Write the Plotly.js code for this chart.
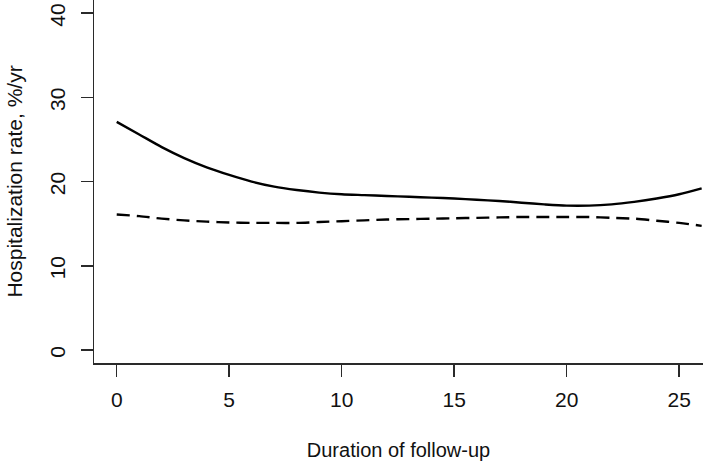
<!DOCTYPE html>
<html>
<head>
<meta charset="utf-8">
<script src="https://cdn.plot.ly/plotly-3.0.1.min.js"></script>
<style>
  html, body { margin: 0; padding: 0; background: #fff; }
  #chart { width: 703px; height: 464px; }
</style>
</head>
<body>
<div id="chart"></div>
<script>
// Years of follow-up
const years = [0, 1, 2, 3, 4, 5, 6, 7, 8, 9, 10, 11, 12, 13, 14, 15, 16, 17, 18, 19, 20, 21, 22, 23, 24, 25, 26];

// Solid curve
const rateSolid = [27.1, 25.6, 24.1, 22.8, 21.7, 20.8, 20.0, 19.4, 19.0, 18.7, 18.5, 18.4, 18.3, 18.2, 18.1, 18.0,
  17.85, 17.7, 17.5, 17.3, 17.15, 17.15, 17.3, 17.6, 18.0, 18.5, 19.2];

// Dashed curve
const rateDashed = [16.1, 15.9, 15.6, 15.4, 15.25, 15.15, 15.1, 15.1, 15.1, 15.2, 15.3, 15.4, 15.5, 15.55, 15.6, 15.65,
  15.7, 15.75, 15.8, 15.8, 15.8, 15.8, 15.7, 15.6, 15.35, 15.1, 14.75];

const xTicks = [0, 5, 10, 15, 20, 25];
const yTicks = [0, 10, 20, 30, 40];

const FONT = "Liberation Sans, Arial, Helvetica, sans-serif";

const traceSolid = {
  x: years,
  y: rateSolid,
  mode: 'lines',
  line: { color: '#000', width: 2.4, shape: 'spline', smoothing: 0.8 },
  hoverinfo: 'skip',
  showlegend: false
};

const traceDashed = {
  x: years,
  y: rateDashed,
  mode: 'lines',
  line: { color: '#000', width: 2.4, shape: 'spline', smoothing: 0.8, dash: '13px,7px' },
  hoverinfo: 'skip',
  showlegend: false
};

const axisCommon = {
  showgrid: false,
  zeroline: false,
  showline: true,
  linecolor: '#2a2a2a',
  linewidth: 1.5,
  ticks: 'outside',
  ticklen: 12,
  tickwidth: 1.5,
  tickcolor: '#2a2a2a',
  ticklabeloverflow: 'allow',
  tickfont: { family: FONT, size: 21, color: '#111' }
};

const layout = {
  width: 703,
  height: 464,
  margin: { l: 94, r: 0, t: 0, b: 101 },
  paper_bgcolor: '#fff',
  plot_bgcolor: '#fff',
  font: { family: FONT, color: '#111' },
  xaxis: Object.assign({}, axisCommon, {
    range: [-1.01, 26.06],
    tickvals: xTicks,
    ticktext: xTicks.map(String),
    ticklabelstandoff: 5,
    title: { text: 'Duration of follow-up', font: { family: FONT, size: 20, color: '#111' }, standoff: 33 },
    automargin: false
  }),
  yaxis: Object.assign({}, axisCommon, {
    range: [-1.54, 41.57],
    tickvals: yTicks,
    ticktext: yTicks.map(String),
    tickangle: -90,
    ticklabelstandoff: 7,
    ticklabelshift: 5,
    title: { text: 'Hospitalization rate, %/yr', font: { family: FONT, size: 21, color: '#111' }, standoff: 17 },
    automargin: false
  })
};

Plotly.newPlot('chart', [traceSolid, traceDashed], layout, { staticPlot: true, displayModeBar: false });
</script>
</body>
</html>
